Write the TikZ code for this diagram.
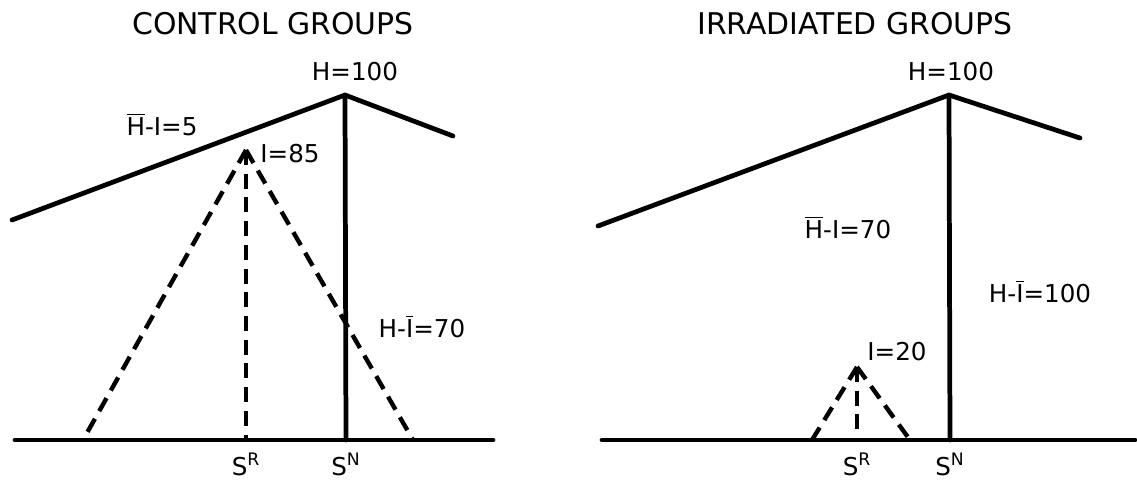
\documentclass[tikz,border=0pt]{standalone}
\usepackage{fontspec}
\setmainfont{DejaVu Sans}
\usetikzlibrary{positioning}
\newcommand{\barred}[1]{$\overline{\hbox{#1}}$}

\begin{document}
\begin{tikzpicture}[
        x=0.02cm, y=-0.02cm,
        solidline/.style={line width=2.7pt, line cap=round, line join=round},
        dashline/.style={line width=2.5pt, dash pattern=on 8.5pt off 5pt},
        ttl/.style={inner sep=0pt, font=\fontsize{17}{20}\selectfont},
        lbl/.style={inner sep=0pt, anchor=base, font=\fontsize{14}{16}\selectfont},
        slbl/.style={inner sep=0pt, font=\fontsize{14}{16}\selectfont}
    ]
    \useasboundingbox (0,0) rectangle (1137,485);

    % control groups
    \coordinate (lroofC) at (12,220);
    \coordinate (peakC) at (345,95);
    \coordinate (rroofC) at (453,136);
    \coordinate (lbaseC) at (15,440);
    \coordinate (rbaseC) at (493,440);
    \coordinate (snC) at (346,440);
    \coordinate (apexC) at (246,150);
    \coordinate (srC) at (246,440);
    \coordinate (dlC) at (83,440);
    \coordinate (drC) at (413,440);

    \draw[solidline] (lroofC) -- (peakC) -- (rroofC);
    \draw[solidline] (peakC) -- (snC);
    \draw[solidline] (lbaseC) -- (rbaseC);
    \draw[dashline] (apexC) -- (dlC);
    \draw[dashline] (apexC) -- (drC);
    \draw[dashline] (apexC) -- (srC);

    \node[ttl] (titleC) at (273,24) {CONTROL GROUPS};
    \node[lbl] (hC) at (355,80) {H=100};
    \node[lbl] (hbiC) at (162,135) {\barred{H}-I=5};
    \node[lbl] (iC) at (290,162) {I=85};
    \node[lbl] (hibC) at (422,337) {H-\barred{I}=70};
    \node[slbl, below=0.26cm of srC] (sRC) {S\textsuperscript{R}};
    \node[slbl, below=0.26cm of snC] (sNC) {S\textsuperscript{N}};

    % irradiated groups
    \coordinate (lroofR) at (598,226);
    \coordinate (peakR) at (949,95);
    \coordinate (rroofR) at (1080,138);
    \coordinate (lbaseR) at (602,440);
    \coordinate (rbaseR) at (1135,440);
    \coordinate (snR) at (950,440);
    \coordinate (apexR) at (857,367);
    \coordinate (srR) at (857,440);
    \coordinate (dlR) at (812,440);
    \coordinate (drR) at (910,440);

    \draw[solidline] (lroofR) -- (peakR) -- (rroofR);
    \draw[solidline] (peakR) -- (snR);
    \draw[solidline] (lbaseR) -- (rbaseR);
    \draw[dashline] (apexR) -- (dlR);
    \draw[dashline] (apexR) -- (drR);
    \draw[dashline] (apexR) -- (srR);

    \node[ttl] (titleR) at (855,24) {IRRADIATED GROUPS};
    \node[lbl] (hR) at (951,80) {H=100};
    \node[lbl] (hbiR) at (848,238) {\barred{H}-I=70};
    \node[lbl] (hibR) at (1040,302) {H-\barred{I}=100};
    \node[lbl] (iR) at (897,360) {I=20};
    \node[slbl, below=0.26cm of srR] (sRR) {S\textsuperscript{R}};
    \node[slbl, below=0.26cm of snR] (sNR) {S\textsuperscript{N}};
\end{tikzpicture}
\end{document}
